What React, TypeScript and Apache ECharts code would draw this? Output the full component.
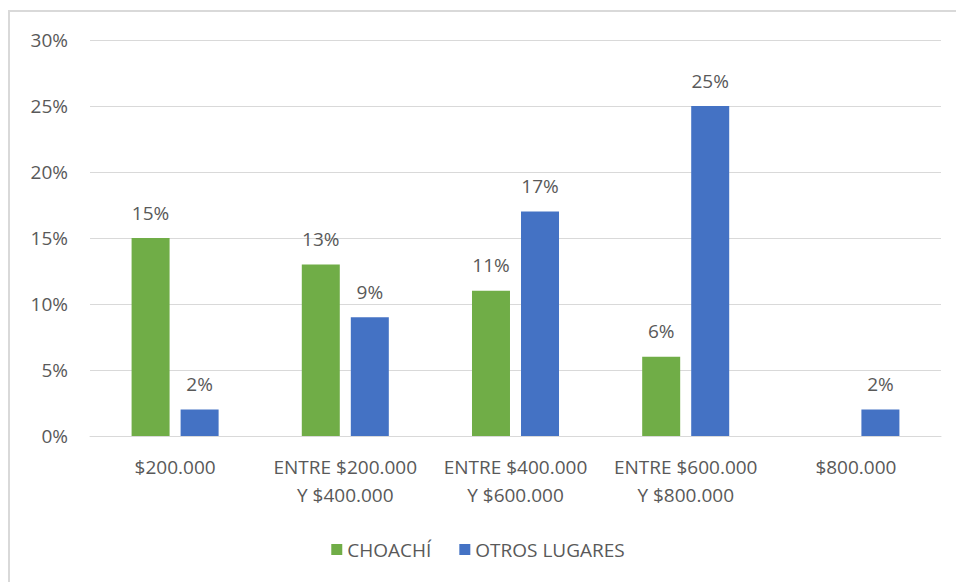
import React, { useEffect, useRef } from "react";
import * as echarts from "echarts";

const categories = [
  "$200.000",
  "ENTRE $200.000\nY $400.000",
  "ENTRE $400.000\nY $600.000",
  "ENTRE $600.000\nY $800.000",
  "$800.000",
];
const choachi: (number | null)[] = [15, 13, 11, 6, null];
const otrosLugares: number[] = [2, 9, 17, 25, 2];
const yTicks = [0, 5, 10, 15, 20, 25, 30];

const FONT = "'Open Sans', 'Liberation Sans', sans-serif";
const TEXT = "#595959";
const FS = 19;

export default function App() {
  const ref = useRef<HTMLDivElement>(null);
  useEffect(() => {
    if (!ref.current) return;
    const chart = echarts.init(ref.current, null, { renderer: "svg" });
    chart.setOption({
      animation: false,
      backgroundColor: "#ffffff",
      textStyle: { fontFamily: FONT },
      graphic: [
        {
          type: "rect",
          shape: { x: 9, y: 11, width: 960, height: 600 },
          style: { fill: "none", stroke: "#d9d9d9", lineWidth: 2 },
          silent: true,
        },
      ],
      grid: { left: 90, right: 15, top: 40, bottom: 146, containLabel: false },
      legend: {
        bottom: 18,
        left: "center",
        itemWidth: 11,
        itemHeight: 11,
        itemGap: 28,
        icon: "rect",
        textStyle: { color: TEXT, fontSize: FS, fontFamily: FONT },
        data: ["CHOACHÍ", "OTROS LUGARES"],
      },
      xAxis: {
        type: "category",
        data: categories,
        axisLine: { show: true, lineStyle: { color: "#d9d9d9", width: 1 } },
        axisTick: { show: false },
        axisLabel: {
          color: TEXT,
          fontSize: FS,
          fontFamily: FONT,
          margin: 17,
          lineHeight: 28,
          interval: 0,
        },
      },
      yAxis: {
        type: "value",
        min: 0,
        max: 30,
        interval: 5,
        axisLine: { show: false },
        axisTick: { show: false },
        splitLine: { lineStyle: { color: "#d9d9d9", width: 1 } },
        axisLabel: {
          color: TEXT,
          fontSize: FS,
          fontFamily: FONT,
          margin: 22,
          formatter: (v: number) => (yTicks.includes(v) ? `${v}%` : ""),
        },
      },
      series: [
        {
          name: "CHOACHÍ",
          type: "bar",
          data: choachi,
          barWidth: 38,
          barGap: "29%",
          itemStyle: { color: "#70ad47" },
          label: {
            show: true,
            position: "top",
            distance: 16,
            color: TEXT,
            fontSize: FS,
            fontFamily: FONT,
            formatter: (p: any) => (p.value == null ? "" : `${p.value}%`),
          },
        },
        {
          name: "OTROS LUGARES",
          type: "bar",
          data: otrosLugares,
          barWidth: 38,
          itemStyle: { color: "#4472c4" },
          label: {
            show: true,
            position: "top",
            distance: 16,
            color: TEXT,
            fontSize: FS,
            fontFamily: FONT,
            formatter: (p: any) => `${p.value}%`,
          },
        },
      ],
    });
    return () => chart.dispose();
  }, []);
  return (
    <div
      ref={ref}
      style={{ position: "fixed", left: 0, top: 0, width: 956, height: 582 }}
    />
  );
}
